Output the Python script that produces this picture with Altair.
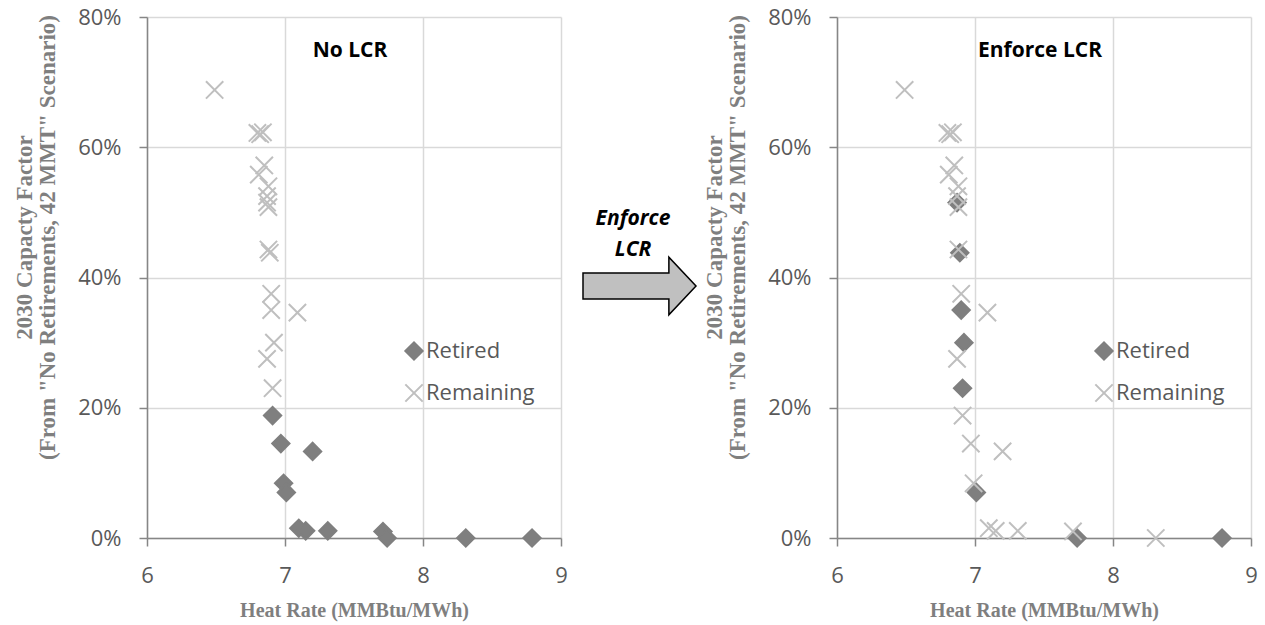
import altair as alt
import pandas as pd

# ---- data ----
heat_rate = [6.49, 6.80, 6.82, 6.84, 6.85, 6.81, 6.88, 6.87, 6.88, 6.87,
             6.88, 6.89, 6.90, 6.90, 7.09, 6.92, 6.87, 6.91, 6.91, 6.97,
             7.20, 6.99, 7.01, 7.10, 7.15, 7.31, 7.71, 7.74, 8.31, 8.79]
capacity_factor_pct = [68.8, 62.2, 62.0, 62.3, 57.2, 55.8, 54.0, 52.5, 50.8, 51.5,
                       44.3, 43.8, 37.5, 35.0, 34.6, 30.0, 27.5, 23.0, 18.8, 14.5,
                       13.3, 8.4, 7.0, 1.5, 1.1, 1.1, 1.0, 0.0, 0.0, 0.0]
status_no_lcr = ["Remaining"] * 18 + ["Retired"] * 12
status_enforce_lcr = ["Remaining", "Remaining", "Remaining", "Remaining", "Remaining",
                      "Remaining", "Remaining", "Remaining", "Remaining", "Retired",
                      "Remaining", "Retired", "Remaining", "Retired", "Remaining",
                      "Retired", "Remaining", "Retired", "Remaining", "Remaining",
                      "Remaining", "Remaining", "Retired", "Remaining", "Remaining",
                      "Remaining", "Remaining", "Retired", "Remaining", "Retired"]
status_names = ["Retired", "Remaining"]
x_ticks = [6, 7, 8, 9]
y_ticks = [0, 0.2, 0.4, 0.6, 0.8]
panel_titles = ["No LCR", "Enforce LCR"]
arrow_label = ["Enforce", "LCR"]
y_title = ["2030 Capacty Factor", "(From \"No Retirements, 42 MMT\" Scenario)"]
x_title = "Heat Rate (MMBtu/MWh)"

X_PATH = "M-1,-1L1,1M-1,1L1,-1"
ARROW_PATH = "M-1,-0.23L0.52,-0.23L0.52,-0.51L1,0L0.52,0.51L0.52,0.23L-1,0.23Z"

PW, PH = 414, 521
AXIS_COL = "#868686"
GRID_COL = "#d9d9d9"
LABEL_COL = "#595959"
TITLE_COL = "#7f7f7f"


def panel(status, title):
    df = pd.DataFrame({
        "hr": heat_rate,
        "cf": [v / 100 for v in capacity_factor_pct],
        "status": status,
    })
    df["z"] = df["status"].map({"Retired": 0, "Remaining": 1})
    legend = alt.Legend(orient="none", legendX=256, legendY=323, title=None,
                        labelFont="Open Sans", labelFontSize=22, labelColor=LABEL_COL,
                        symbolSize=300, symbolStrokeWidth=2, rowPadding=16,
                        labelOffset=1, padding=0)
    pts = alt.Chart(df).mark_point(opacity=1, strokeWidth=2, size=300).encode(
        x=alt.X("hr:Q", scale=alt.Scale(domain=[6, 9], nice=False, zero=False),
                axis=alt.Axis(values=x_ticks, format="d", title=x_title,
                              titleY=78, titleBaseline="alphabetic",
                              labelPadding=19)),
        y=alt.Y("cf:Q", scale=alt.Scale(domain=[0, 0.8], nice=False),
                axis=alt.Axis(values=y_ticks, format=".0%", title=y_title,
                              titleX=-123, titleY=220, titleAngle=270,
                              titleAlign="center", titleBaseline="middle",
                              titleFontSize=23, titleLineHeight=23,
                              labelPadding=18)),
        shape=alt.Shape("status:N", scale=alt.Scale(domain=status_names,
                        range=["diamond", X_PATH]), legend=legend),
        fill=alt.Fill("status:N", scale=alt.Scale(domain=status_names,
                      range=["#7f7f7f", "transparent"]), legend=legend),
        stroke=alt.Stroke("status:N", scale=alt.Scale(domain=status_names,
                          range=["#7f7f7f", "#bfbfbf"]), legend=legend),
        order=alt.Order("z:Q"),
    )
    txt = alt.Chart(pd.DataFrame({"t": [title]})).mark_text(
        font="Open Sans", fontWeight="bold", fontSize=21, color="black",
        baseline="middle", align="center").encode(
        x=alt.value(203), y=alt.value(34), text="t:N")
    return alt.layer(pts, txt).properties(width=PW, height=PH)


left = panel(status_no_lcr, panel_titles[0])
right = panel(status_enforce_lcr, panel_titles[1])

mid_df = pd.DataFrame({"k": [0]})
arrow = alt.Chart(mid_df).mark_point(
    shape=ARROW_PATH, size=113 * 113, fill="#c0c0c0", stroke="black",
    strokeWidth=1.5, opacity=1, filled=True).encode(
    x=alt.value(78.5), y=alt.value(269))
arrow_txt = alt.Chart(mid_df).mark_text(
    font="Open Sans", fontWeight="bold", fontStyle="italic", fontSize=21,
    color="black", baseline="middle", align="center", lineHeight=31).encode(
    x=alt.value(72), y=alt.value(202), text=alt.value(arrow_label))
middle = alt.layer(arrow, arrow_txt).properties(width=276, height=PH)

chart = alt.hconcat(left, middle, right, spacing=0, bounds="flush").resolve_legend(
    shape="independent", fill="independent", stroke="independent"
).resolve_scale(
    shape="independent", fill="independent", stroke="independent"
).properties(
    padding={"left": 12, "top": 6, "right": 5, "bottom": 5},
    background="white",
).configure_view(strokeWidth=0).configure_axis(
    domainColor=AXIS_COL, domainWidth=1.5, tickColor=AXIS_COL, tickWidth=1.5,
    tickSize=8, gridColor=GRID_COL, gridWidth=1.5,
    labelFont="Open Sans", labelFontSize=22, labelColor=LABEL_COL,
    labelFlush=False, labelOverlap=False,
    titleFont="Liberation Serif", titleFontWeight="bold", titleFontSize=20,
    titleColor=TITLE_COL,
)

chart.save("out.html", embed_options={"renderer": "svg", "actions": False})
